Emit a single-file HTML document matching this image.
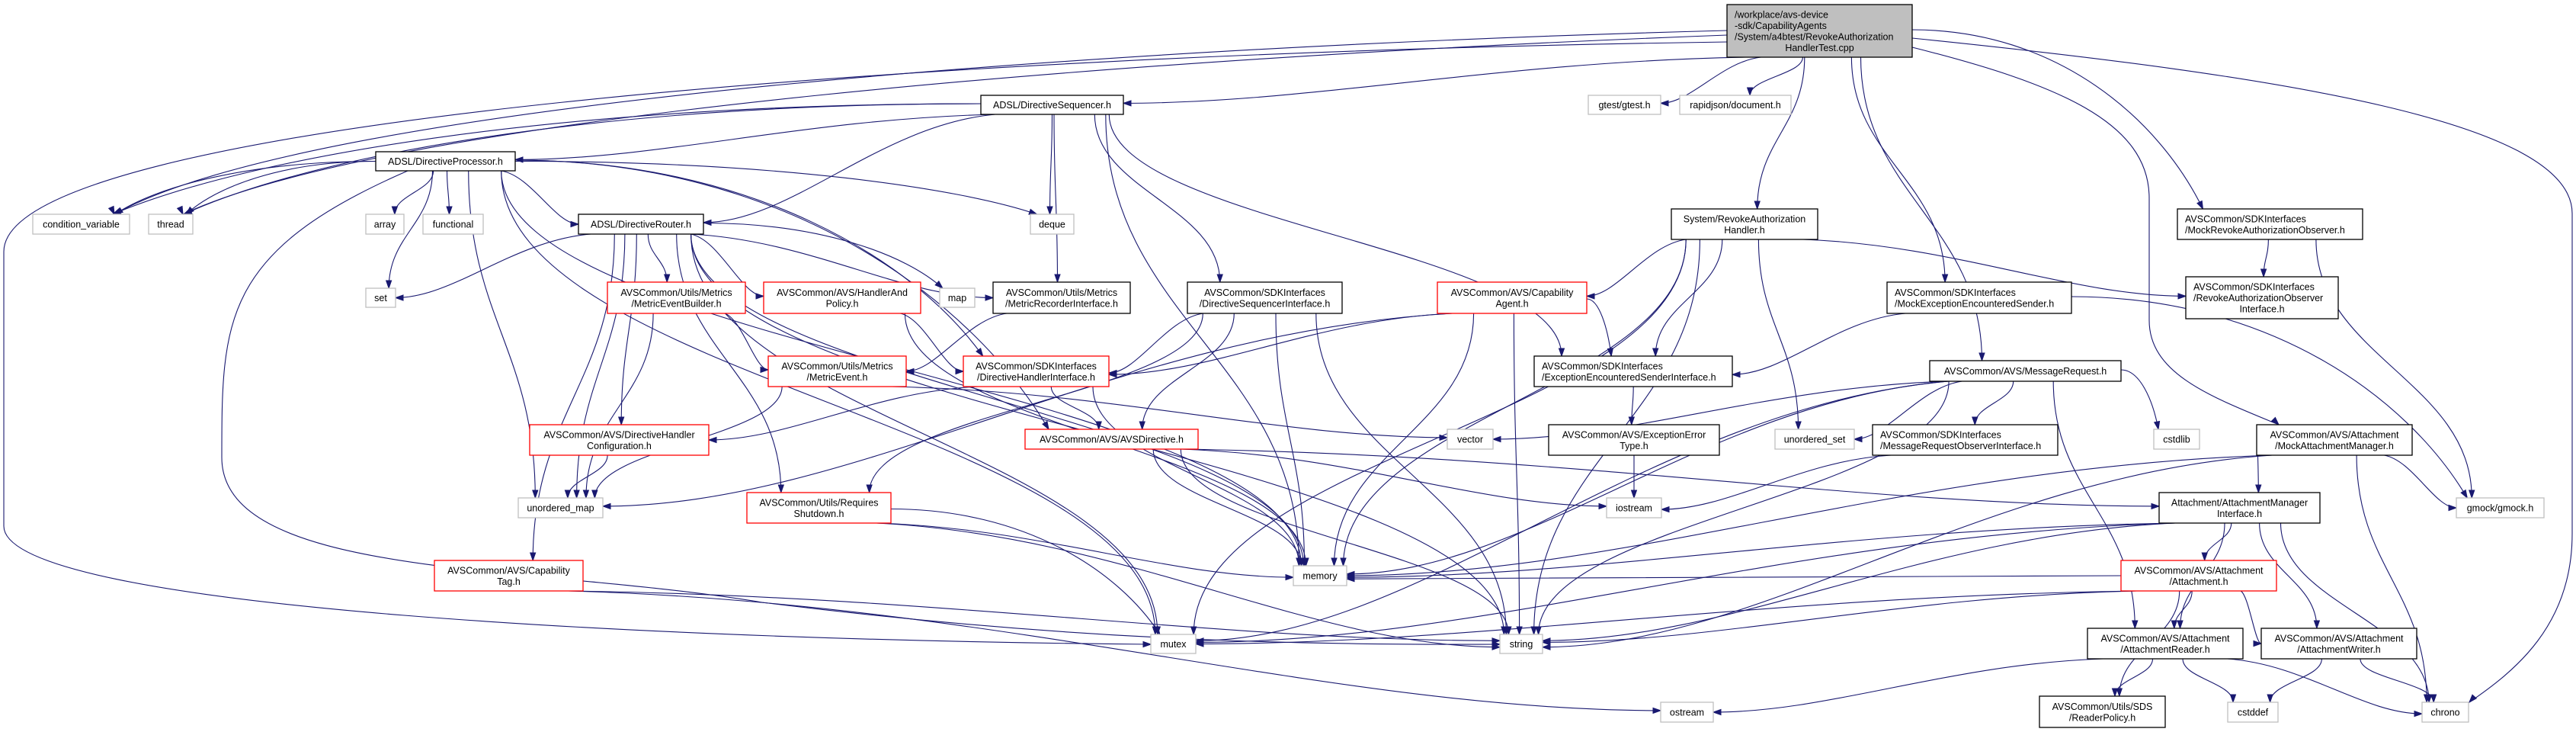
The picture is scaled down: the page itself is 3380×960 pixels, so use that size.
<!DOCTYPE html>
<html><head><meta charset="utf-8">
<style>
html,body{margin:0;padding:0;background:#fff;}
svg{display:block;}
text{font-family:"Liberation Sans",sans-serif;font-size:12.5px;fill:#000;}
</style></head>
<body>
<svg id="g" width="3380" height="960" xmlns="http://www.w3.org/2000/svg"></svg>
<script>
var N={
root:[2266,6,2509,75,'root',["/workplace/avs-device","-sdk/CapabilityAgents","/System/a4btest/RevokeAuthorization","HandlerTest.cpp"]],
seq:[1287,125,1474,150,'b',["ADSL/DirectiveSequencer.h"]],
proc:[493,199,676,224,'b',["ADSL/DirectiveProcessor.h"]],
cv:[43,281,170,307,'g',["condition_variable"]],
thr:[195,281,253,307,'g',["thread"]],
arr:[480,281,530,307,'g',["array"]],
fun:[555,281,634,307,'g',["functional"]],
rtr:[759,281,923,307,'b',["ADSL/DirectiveRouter.h"]],
deq:[1352,281,1409,307,'g',["deque"]],
gtest:[2084,125,2179,150,'g',["gtest/gtest.h"]],
rj:[2204,125,2350,150,'g',["rapidjson/document.h"]],
rah:[2193,274,2385,314,'b',["System/RevokeAuthorization","Handler.h"]],
mro:[2857,274,3100,314,'b',["AVSCommon/SDKInterfaces","/MockRevokeAuthorizationObserver.h"]],
set:[480,378,519,403,'g',["set"]],
meb:[797,370,978,411,'r',["AVSCommon/Utils/Metrics","/MetricEventBuilder.h"]],
hap:[1002,370,1208,411,'r',["AVSCommon/AVS/HandlerAnd","Policy.h"]],
map:[1233,378,1279,403,'g',["map"]],
mri:[1303,370,1483,411,'b',["AVSCommon/Utils/Metrics","/MetricRecorderInterface.h"]],
dsi:[1558,370,1761,411,'b',["AVSCommon/SDKInterfaces","/DirectiveSequencerInterface.h"]],
cap:[1886,370,2082,411,'r',["AVSCommon/AVS/Capability","Agent.h"]],
mes:[2476,370,2718,411,'b',["AVSCommon/SDKInterfaces","/MockExceptionEncounteredSender.h"]],
roi:[2868,363,3068,418,'b',["AVSCommon/SDKInterfaces","/RevokeAuthorizationObserver","Interface.h"]],
me:[1008,467,1189,507,'r',["AVSCommon/Utils/Metrics","/MetricEvent.h"]],
dhi:[1264,467,1455,507,'r',["AVSCommon/SDKInterfaces","/DirectiveHandlerInterface.h"]],
eesi:[2013,467,2273,507,'b',["AVSCommon/SDKInterfaces","/ExceptionEncounteredSenderInterface.h"]],
mr:[2532,473,2783,500,'b',["AVSCommon/AVS/MessageRequest.h"]],
dhc:[695,557,930,597,'r',["AVSCommon/AVS/DirectiveHandler","Configuration.h"]],
avsd:[1345,563,1572,589,'r',["AVSCommon/AVS/AVSDirective.h"]],
vec:[1899,563,1959,589,'g',["vector"]],
eet:[2032,557,2256,597,'b',["AVSCommon/AVS/ExceptionError","Type.h"]],
us:[2329,563,2433,589,'g',["unordered_set"]],
mroi:[2457,557,2700,597,'b',["AVSCommon/SDKInterfaces","/MessageRequestObserverInterface.h"]],
csl:[2826,563,2886,589,'g',["cstdlib"]],
mam:[2961,557,3165,597,'b',["AVSCommon/AVS/Attachment","/MockAttachmentManager.h"]],
um:[680,653,791,679,'g',["unordered_map"]],
ios:[2108,653,2180,679,'g',["iostream"]],
gm:[3223,653,3338,679,'g',["gmock/gmock.h"]],
rs:[980,646,1169,686,'r',["AVSCommon/Utils/Requires","Shutdown.h"]],
ami:[2833,646,3044,686,'b',["Attachment/AttachmentManager","Interface.h"]],
mem:[1697,742,1767,768,'g',["memory"]],
ct:[570,735,765,775,'r',["AVSCommon/AVS/Capability","Tag.h"]],
att:[2783,735,2987,775,'r',["AVSCommon/AVS/Attachment","/Attachment.h"]],
mtx:[1510,832,1569,857,'g',["mutex"]],
str:[1968,832,2024,857,'g',["string"]],
ar:[2739,824,2943,864,'b',["AVSCommon/AVS/Attachment","/AttachmentReader.h"]],
aw:[2967,824,3171,864,'b',["AVSCommon/AVS/Attachment","/AttachmentWriter.h"]],
rp:[2676,913,2841,954,'b',["AVSCommon/Utils/SDS","/ReaderPolicy.h"]],
cdf:[2923,921,2989,947,'g',["cstddef"]],
ost:[2179,921,2248,947,'g',["ostream"]],
chr:[3178,921,3239,947,'g',["chrono"]]
};
var E=[
['root','seq'],['root','gtest'],['root','rj'],['root','rah'],['root','mes'],['root','mr'],['root','mro'],
['seq','proc'],['seq','rtr'],['seq','deq'],['seq','mri'],['seq','dsi'],['seq','eesi'],['seq','mem'],['seq','cv','top'],['seq','thr','top'],
['proc','cv','top'],['proc','thr','top'],['proc','arr'],['proc','fun'],['proc','set'],['proc','rtr'],['proc','deq','top'],['proc','avsd'],['proc','dhi'],['proc','um'],['proc','mem'],['proc','mtx'],
['rtr','set'],['rtr','meb'],['rtr','hap'],['rtr','map','top'],['rtr','mri'],['rtr','dhc'],['rtr','um'],['rtr','ct'],['rtr','rs'],['rtr','mem'],['rtr','str'],['rtr','mtx'],
['meb','me'],['meb','um'],['hap','dhi'],['hap','mem'],['mri','me'],
['dsi','dhi'],['dsi','avsd'],['dsi','rs'],['dsi','mem'],['dsi','str'],
['me','vec'],['me','um'],['dhi','dhc'],['dhi','avsd'],['dhi','mem'],
['avsd','ios'],['avsd','ami'],['avsd','mem'],['avsd','str'],
['rs','mem'],['rs','str'],['rs','mtx'],['ct','str'],['ct','ost'],['dhc','um'],
['rah','cap'],['rah','eesi'],['rah','roi'],['rah','us'],['rah','str'],['rah','mem'],['rah','mtx'],
['cap','dhi'],['cap','um'],['cap','eesi'],['cap','mem'],['cap','str'],
['mes','eesi'],['mes','gm'],['eesi','eet'],['eet','ios'],
['mr','vec'],['mr','us'],['mr','mroi'],['mr','csl'],['mr','mem'],['mr','str'],['mr','mtx'],['mr','ar'],
['mroi','ios'],['mam','ami'],['mam','gm'],['mam','chr'],['mam','mem'],['mam','str'],
['mro','roi'],['mro','gm'],
['ami','att'],['ami','ar'],['ami','aw'],['ami','chr'],['ami','mem'],['ami','str'],['ami','mtx'],
['att','ar'],['att','aw'],['att','rp'],['att','mtx'],['att','str'],['att','mem'],
['ar','rp'],['ar','cdf'],['ar','chr'],['ar','ost'],['aw','cdf'],['aw','chr']
];
var C=[
["M2266,40 C1500,60 420,130 150,281",150,281,145,270],
["M2266,46 C1500,75 520,150 240,281",240,281,235,270],
["M2266,55 C1200,70 5,160 5,330 L5,690 C5,800 900,840 1510,845",1510,845,1500,845],
["M535,224 C291,330 291,420 291,600 C291,760 700,740 1000,790 C1400,840 1700,846 1968,845",1968,845,1958,845],
["M2509,50 C3000,100 3375,160 3375,280 L3375,700 C3375,820 3300,880 3240,921",3240,921,3248,912],
["M2509,62 C2700,110 2820,160 2820,260 L2820,420 C2820,490 2900,520 2990,557",2990,557,2982,549]
];
var s='';
function cl(v,a,b){return Math.max(a,Math.min(b,v));}
function arrow(tx,ty,fx,fy){var dx=tx-fx,dy=ty-fy,l=Math.sqrt(dx*dx+dy*dy)||1;dx/=l;dy/=l;
var bx=tx-dx*10,by=ty-dy*10,px=-dy*3.5,py=dx*3.5;
return '<polygon points="'+tx+','+ty+' '+(bx+px)+','+(by+py)+' '+(bx-px)+','+(by-py)+'" fill="#191970" stroke="#191970"/>';}
var cnt={};
E.forEach(function(e){var a=N[e[0]],b=N[e[1]];
var acx=(a[0]+a[2])/2,bcx=(b[0]+b[2])/2,acy=(a[1]+a[3])/2,bcy=(b[1]+b[3])/2;
var key=e[1];cnt[key]=(cnt[key]||0)+1;var off=((cnt[key]%5)-2)*3;
var sx,sy,tx,ty,c1x,c1y,c2x,c2y;
var dxx=bcx-acx,dyy=b[1]-a[3];
if(e[2]=='top'||(dyy>15&&Math.abs(dxx)<3.2*dyy)){
 var aw=(a[2]-a[0])*0.4,bw=(b[2]-b[0])*0.35;
 tx=bcx+cl(-dxx*0.2,-bw,bw)+off;ty=b[1];
 if(Math.abs(dxx)>2.5*Math.max(dyy,10)){
  sx=dxx<0?a[0]:a[2];sy=acy+off*0.5;
  c1x=sx+(tx-sx)*0.5;c1y=sy;c2x=tx+(sx-tx)*0.15;c2y=ty-(ty-sy)*0.5;
 }else{
  sx=acx+cl(dxx*0.2,-aw,aw);sy=a[3];
  var d=ty-sy;if(d<20)d=20;
  c1x=sx;c1y=sy+d*0.45;c2x=tx;c2y=ty-d*0.45;
 }
}else if(dyy>-10||Math.abs(acy-bcy)<60){
 var right=bcx>acx;
 if(a[3]<b[1]-5){sx=acx+cl(dxx*0.3,-(a[2]-a[0])*0.4,(a[2]-a[0])*0.4);sy=a[3];}
 else{sx=right?a[2]:a[0];sy=acy;}
 tx=right?b[0]:b[2];ty=bcy+off*0.7;
 c1x=sx+(tx-sx)*0.4;c1y=sy+(ty-sy)*0.1;c2x=tx-(tx-sx)*0.3;c2y=ty;
}else{
 sx=acx;sy=a[1];tx=bcx;ty=b[3];c1x=sx;c1y=sy-30;c2x=tx;c2y=ty+30;
}
s+='<path d="M'+sx+','+sy+' C'+c1x+','+c1y+' '+c2x+','+c2y+' '+tx+','+ty+'" fill="none" stroke="#191970" stroke-width="1.1"/>';
s+=arrow(tx,ty,c2x,c2y);
});
C.forEach(function(c){s+='<path d="'+c[0]+'" fill="none" stroke="#191970" stroke-width="1.1"/>';s+=arrow(c[1],c[2],c[3],c[4]);});
for(var k in N){var n=N[k],x=n[0],y=n[1],w=n[2]-n[0],h=n[3]-n[1],t=n[4],L=n[5];
var fill='#fff',st='#000',sw=1.3;
if(t=='g'){st='#bfbfbf';}if(t=='r'){st='#ff0000';}if(t=='root'){fill='#bfbfbf';st='#000';}
s+='<rect x="'+x+'" y="'+y+'" width="'+w+'" height="'+h+'" fill="'+fill+'" stroke="'+st+'" stroke-width="'+sw+'"/>';
var lh=14.5,y0=y+h/2-(L.length-1)*lh/2+4.5;
L.forEach(function(l,i){var anc='middle',xx=x+w/2;
 if(t=='root'&&i<3){anc='start';xx=x+10;}
 if(k=='mro'||k=='mes'||k=='eesi'||k=='mroi'){anc='start';xx=x+10;}
 if(k=='roi'&&i<2){anc='start';xx=x+10;}
 s+='<text x="'+xx+'" y="'+(y0+i*lh)+'" text-anchor="'+anc+'">'+l+'</text>';});
}
document.getElementById('g').innerHTML=s;
</script>
</body></html>
